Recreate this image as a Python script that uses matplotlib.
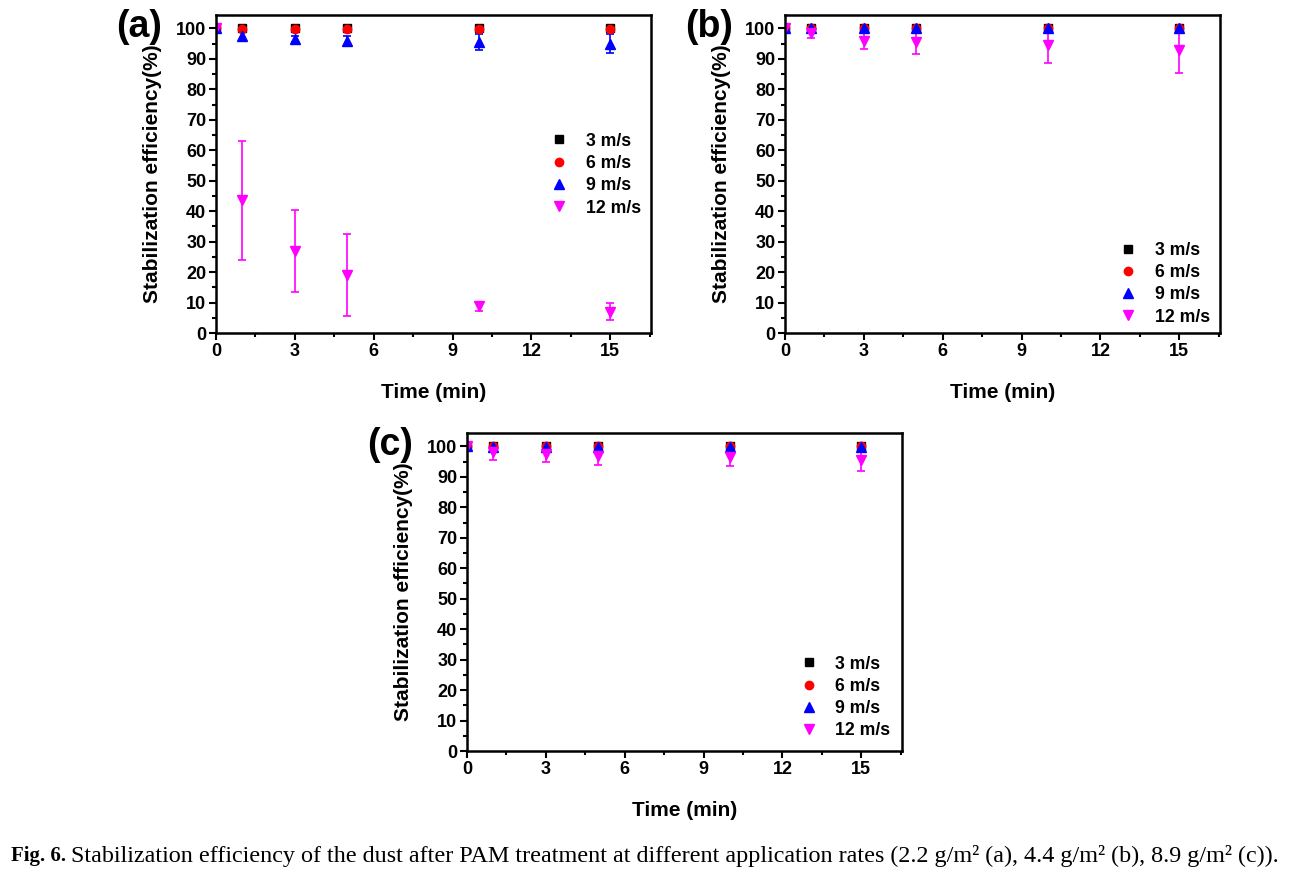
import matplotlib.pyplot as plt
from matplotlib.ticker import MultipleLocator

# ──────────────────────────────────────────────
# Data
# ──────────────────────────────────────────────
TIME = [0, 1, 3, 5, 10, 15]
LABELS = ["3 m/s", "6 m/s", "9 m/s", "12 m/s"]

# panel (a) 2.2 g/m2
a_3 = [100, 100, 100, 100, 100, 100]
a_6 = [100, 99.8, 99.8, 99.8, 99.8, 99.8]
a_9 = [100, 97.5, 96.5, 96.0, 95.5, 95.0]
a_12 = [100, 43.5, 27.0, 19.0, 8.8, 7.0]
a_3_err = [0, 0.3, 0.3, 0.3, 0.3, 0.3]
a_6_err = [0, 0.5, 0.8, 0.5, 0.5, 0.5]
a_9_err = [0, 1.2, 1.0, 1.5, 2.5, 3.0]
a_12_err = [0, 19.5, 13.5, 13.5, 1.5, 2.8]

# panel (b) 4.4 g/m2
b_3 = [100, 100, 100, 100, 100, 100]
b_6 = [100, 100, 100, 100, 100, 100]
b_9 = [100, 100, 100, 100, 100, 100]
b_12 = [100, 98.5, 96.0, 95.5, 94.5, 93.0]
b_3_err = [0, 0.2, 0.2, 0.2, 0.2, 0.2]
b_6_err = [0, 0.3, 0.3, 0.3, 0.3, 0.3]
b_9_err = [0, 0.5, 0.8, 0.8, 0.8, 0.8]
b_12_err = [0, 1.8, 2.8, 4.0, 6.0, 7.5]

# panel (c) 8.9 g/m2
c_3 = [100, 100, 100, 100, 100, 100]
c_6 = [100, 100, 100, 100, 100, 100]
c_9 = [100, 99.8, 99.8, 99.8, 99.8, 99.8]
c_12 = [100, 98.0, 97.5, 97.0, 96.5, 95.5]
c_3_err = [0, 0.3, 0.3, 0.3, 0.3, 0.3]
c_6_err = [0, 0.3, 0.3, 0.3, 0.3, 0.3]
c_9_err = [0, 1.0, 1.0, 1.0, 1.0, 1.0]
c_12_err = [0, 2.5, 2.5, 3.0, 3.0, 3.5]

STYLES = [
    dict(marker="s", color="black", ms=6),
    dict(marker="o", color="red", ms=6),
    dict(marker="^", color="blue", ms=7),
    dict(marker="v", color="#ff00ff", ms=7),
]

W, H = 1293, 872
plt.rcParams["font.family"] = ["Liberation Sans", "DejaVu Sans"]
plt.rcParams["font.weight"] = "bold"

fig = plt.figure(figsize=(W / 100, H / 100), dpi=100)


def px_axes(left, top, right, bottom):
    return fig.add_axes([left / W, 1 - bottom / H, (right - left) / W, (bottom - top) / H])


def draw_panel(ax, series, errors, tag, legend_anchor):
    for vals, errs, lab, st in zip(series, errors, LABELS, STYLES):
        ax.errorbar(
            TIME, vals, yerr=errs, linestyle="none",
            marker=st["marker"], color=st["color"], ms=st["ms"],
            mec=st["color"], elinewidth=1.2, capsize=3, capthick=1.2,
            label=lab,
        )
    ax.set_xlim(0, 16.55)
    ax.set_ylim(0, 104.4)
    ax.xaxis.set_major_locator(MultipleLocator(3))
    ax.xaxis.set_minor_locator(MultipleLocator(1.5))
    ax.yaxis.set_major_locator(MultipleLocator(10))
    ax.yaxis.set_minor_locator(MultipleLocator(5))
    ax.tick_params(which="major", direction="out", length=5, width=1.5,
                   labelsize=13, pad=2, top=False, right=False)
    ax.tick_params(which="minor", direction="out", length=3, width=1.5,
                   top=False, right=False)
    for lbl in ax.get_xticklabels() + ax.get_yticklabels():
        lbl.set_fontweight("bold")
    for sp in ax.spines.values():
        sp.set_linewidth(1.8)
    ax.set_xlabel("Time (min)", fontsize=15, fontweight="bold", labelpad=17)
    ax.set_ylabel("Stabilization efficiency(%)", fontsize=15, fontweight="bold", labelpad=10)
    ax.text(-0.23, 0.962, tag, transform=ax.transAxes, fontsize=27,
            fontweight="bold", ha="left", va="center")
    handles, labels = ax.get_legend_handles_labels()
    handles = [h[0] for h in handles]
    ax.legend(handles, labels, loc="upper left", bbox_to_anchor=legend_anchor,
              frameon=False, handletextpad=0.9, labelspacing=0.3,
              handlelength=1.2, prop=dict(weight="bold", size=12.7))


ax_a = px_axes(216, 15, 651, 333)
draw_panel(ax_a, [a_3, a_6, a_9, a_12], [a_3_err, a_6_err, a_9_err, a_12_err],
           "(a)", (0.728, 0.68))

ax_b = px_axes(785, 15, 1220, 333)
draw_panel(ax_b, [b_3, b_6, b_9, b_12], [b_3_err, b_6_err, b_9_err, b_12_err],
           "(b)", (0.728, 0.337))

ax_c = px_axes(467, 433, 902, 751)
draw_panel(ax_c, [c_3, c_6, c_9, c_12], [c_3_err, c_6_err, c_9_err, c_12_err],
           "(c)", (0.725, 0.35))

# caption
cap_y = 1 - 856 / H
fig_lbl = fig.text(11 / W, cap_y, "Fig. 6.", fontfamily="Liberation Serif",
                   fontweight="bold", fontsize=15, va="center", ha="left")
renderer = fig.canvas.get_renderer()
bb = fig_lbl.get_window_extent(renderer)
fig.text((bb.x1 + 5) / W, cap_y,
         "Stabilization efficiency of the dust after PAM treatment at different "
         "application rates (2.2 g/m\u00b2 (a), 4.4 g/m\u00b2 (b), 8.9 g/m\u00b2 (c)).",
         fontfamily="Liberation Serif", fontweight="normal", fontsize=17.35,
         va="center", ha="left")

fig.savefig("out.png", dpi=100)
